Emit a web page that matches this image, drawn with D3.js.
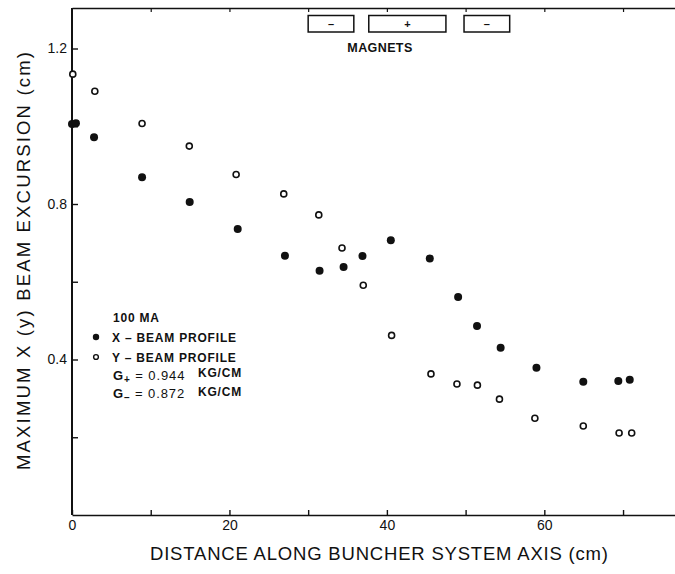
<!DOCTYPE html>
<html>
<head>
<meta charset="utf-8">
<script src="https://cdn.jsdelivr.net/npm/d3@7"></script>
<style>
  body { margin: 0; background: #fff; }
  svg { display: block; }
  text { font-family: "Liberation Sans", Arial, sans-serif; fill: #111; }
</style>
</head>
<body>
<svg id="chart" width="675" height="574"></svg>
<script>
// ---- data ----
const xBeamDist = [0, 0.5, 2.8, 8.9, 14.95, 21.05, 27.05, 31.45, 34.5, 36.9, 40.5, 45.45, 49.05, 51.45, 54.45, 59.0, 64.95, 69.4, 70.85];
const xBeamExc  = [1.006, 1.008, 0.972, 0.869, 0.805, 0.736, 0.667, 0.628, 0.638, 0.666, 0.707, 0.660, 0.561, 0.486, 0.430, 0.379, 0.343, 0.345, 0.348];
const yBeamDist = [0.1, 2.9, 8.9, 14.9, 20.85, 26.9, 31.35, 34.3, 37.0, 40.6, 45.6, 48.9, 51.5, 54.3, 58.8, 64.95, 69.5, 71.1];
const yBeamExc  = [1.134, 1.090, 1.007, 0.949, 0.876, 0.826, 0.772, 0.687, 0.591, 0.462, 0.363, 0.337, 0.334, 0.298, 0.249, 0.229, 0.211, 0.211];
const xTickValues = [0, 10, 20, 30, 40, 50, 60, 70];
const xTickLabels = ["0", "", "20", "", "40", "", "60", ""];
const yTickValues = [0.2, 0.4, 0.6, 0.8, 1.0, 1.2];
const yTickLabels = ["", "0.4", "", "0.8", "", "1.2"];
const magnetStart = [30, 37.7, 49.8];
const magnetEnd   = [35.8, 47.5, 55.6];
const magnetSign  = ["–", "+", "–"];
const legendLines = ["100 MA", "X – BEAM PROFILE", "Y – BEAM PROFILE"];

// ---- layout ----
const svg = d3.select("#chart");
const mLeft = 72, mRight = 675, mTop = 8, mBottom = 515;
const x = d3.scaleLinear().domain([0, 76.6]).range([mLeft, mRight]);
const y = d3.scaleLinear().domain([0, 1.2]).range([mBottom, 48.5]);

const ink = "#111";

// axes
const xAxisB = d3.axisBottom(x).tickValues(xTickValues).tickSizeInner(-5).tickSizeOuter(0)
  .tickFormat((d, i) => xTickLabels[i]);
const gB = svg.append("g").attr("transform", `translate(0,${mBottom})`).call(xAxisB);
gB.select(".domain").attr("stroke", ink).attr("stroke-width", 1.6);
gB.selectAll(".tick line").attr("stroke", ink).attr("stroke-width", 1.4);
gB.selectAll(".tick text").attr("dy", "0.95em").attr("y", 2).style("font-size", "14px").style("font-family", "Liberation Sans, Arial, sans-serif");

const xAxisT = d3.axisTop(x).tickValues(xTickValues.slice(1)).tickSizeInner(-4).tickSizeOuter(0).tickFormat("");
const gT = svg.append("g").attr("transform", `translate(0,${mTop})`).call(xAxisT);
gT.select(".domain").attr("stroke", ink).attr("stroke-width", 1.6);
gT.selectAll(".tick line").attr("stroke", ink).attr("stroke-width", 1.2);

const yAxisL = d3.axisLeft(y).tickValues(yTickValues).tickSizeInner(-6).tickSizeOuter(0)
  .tickFormat((d, i) => yTickLabels[i]);
const gL = svg.append("g").attr("transform", `translate(${mLeft},0)`).call(yAxisL);
gL.select(".domain").attr("d", `M0,${mBottom}V${mTop}`).attr("stroke", ink).attr("stroke-width", 2);
gL.selectAll(".tick line").attr("stroke", ink).attr("stroke-width", 1.4);
gL.selectAll(".tick text").attr("x", -5).style("font-size", "14px").style("font-family", "Liberation Sans, Arial, sans-serif");

// magnets
const boxTop = 15.5, boxH = 16.5;
const mg = svg.append("g");
magnetStart.forEach((s, i) => {
  mg.append("rect").attr("x", x(s)).attr("y", boxTop).attr("width", x(magnetEnd[i]) - x(s)).attr("height", boxH)
    .attr("fill", "none").attr("stroke", ink).attr("stroke-width", 1.5);
  mg.append("text").attr("x", (x(s) + x(magnetEnd[i])) / 2).attr("y", boxTop + boxH / 2 + 4)
    .attr("text-anchor", "middle").style("font-size", "11px").style("font-weight", "bold").text(magnetSign[i]);
});
mg.append("text").attr("x", 380).attr("y", 52).attr("text-anchor", "middle")
  .style("font-size", "12.5px").style("font-weight", "bold").style("letter-spacing", "0.4px").text("MAGNETS");

// points
svg.append("g").selectAll("circle").data(xBeamDist).join("circle")
  .attr("cx", d => x(d)).attr("cy", (d, i) => y(xBeamExc[i])).attr("r", 4).attr("fill", ink);
svg.append("g").selectAll("circle").data(yBeamDist).join("circle")
  .attr("cx", d => x(d)).attr("cy", (d, i) => y(yBeamExc[i])).attr("r", 3)
  .attr("fill", "#fff").attr("stroke", ink).attr("stroke-width", 1.6);

// legend
const lg = svg.append("g").style("font-size", "12px").style("font-weight", "bold").style("letter-spacing", "0.8px");
lg.append("text").attr("x", 113).attr("y", 322).text(legendLines[0]);
lg.append("circle").attr("cx", 96).attr("cy", 337).attr("r", 3.2).attr("fill", ink);
lg.append("text").attr("x", 112).attr("y", 342).text(legendLines[1]);
lg.append("circle").attr("cx", 96).attr("cy", 357).attr("r", 2.4).attr("fill", "#fff").attr("stroke", ink).attr("stroke-width", 1.4);
lg.append("text").attr("x", 112).attr("y", 362).text(legendLines[2]);
const g1 = lg.append("text").attr("x", 113).attr("y", 380).style("font-size", "13px").style("font-weight", "normal").style("letter-spacing", "0.9px");
g1.append("tspan").style("font-weight", "bold").text("G");
g1.append("tspan").attr("dy", 3).style("font-size", "10px").style("font-weight", "bold").text("+");
g1.append("tspan").attr("dy", -3).text(" = 0.944");
lg.append("text").attr("x", 198).attr("y", 377).text("KG/CM");
const g2 = lg.append("text").attr("x", 113).attr("y", 398).style("font-size", "13px").style("font-weight", "normal").style("letter-spacing", "0.9px");
g2.append("tspan").style("font-weight", "bold").text("G");
g2.append("tspan").attr("dy", 3).style("font-size", "10px").style("font-weight", "bold").text("–");
g2.append("tspan").attr("dy", -3).text(" = 0.872");
lg.append("text").attr("x", 198).attr("y", 396).text("KG/CM");

// axis titles
svg.append("text").attr("x", 379).attr("y", 560).attr("text-anchor", "middle")
  .attr("textLength", 458).attr("lengthAdjust", "spacing")
  .style("font-size", "18.5px").text("DISTANCE ALONG BUNCHER SYSTEM AXIS (cm)");
svg.append("text").attr("transform", "translate(30,261) rotate(-90)").attr("text-anchor", "middle")
  .attr("textLength", 418).attr("lengthAdjust", "spacing")
  .style("font-size", "18.5px").text("MAXIMUM  X (y) BEAM  EXCURSION  (cm)");
</script>
</body>
</html>
